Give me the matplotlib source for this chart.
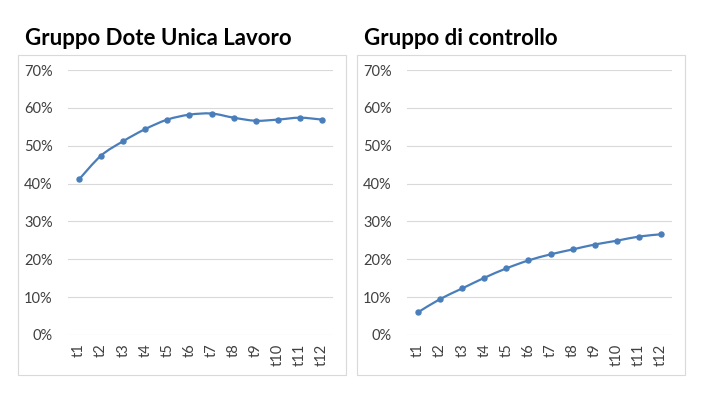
import numpy as np
import matplotlib
matplotlib.use('Agg')
import matplotlib.pyplot as plt
from matplotlib.path import Path
from matplotlib.patches import PathPatch, Rectangle
from matplotlib.ticker import PercentFormatter

periods = ['t1', 't2', 't3', 't4', 't5', 't6', 't7', 't8', 't9', 't10', 't11', 't12']
dote_unica = [41.1, 47.4, 51.2, 54.4, 56.9, 58.2, 58.5, 57.4, 56.6, 56.9, 57.4, 56.9]
controllo = [6.0, 9.5, 12.3, 15.1, 17.6, 19.7, 21.3, 22.6, 23.9, 24.9, 26.0, 26.6]
titles = ['Gruppo Dote Unica Lavoro', 'Gruppo di controllo']

blue = '#4A7EBB'
grid_c = '#D9D9D9'
text_c = '#404040'

plt.rcParams['font.family'] = ['Lato', 'DejaVu Sans']


def smooth_path(x, y):
    # excel-like smoothed line: cubic bezier through the points
    x = np.asarray(x, float)
    y = np.asarray(y, float)
    n = len(x)
    verts = [(x[0], y[0])]
    codes = [Path.MOVETO]
    for i in range(n - 1):
        p0 = np.array([x[max(i - 1, 0)], y[max(i - 1, 0)]])
        p1 = np.array([x[i], y[i]])
        p2 = np.array([x[i + 1], y[i + 1]])
        p3 = np.array([x[min(i + 2, n - 1)], y[min(i + 2, n - 1)]])
        c1 = p1 + (p2 - p0) / 6.0
        c2 = p2 - (p3 - p1) / 6.0
        verts += [tuple(c1), tuple(c2), tuple(p2)]
        codes += [Path.CURVE4] * 3
    return Path(verts, codes)


fig = plt.figure(figsize=(7.05, 4), dpi=100)

frames = [(18, 55, 346, 375), (357, 55, 685, 375)]
axes_px = [(68, 333), (407, 672)]
title_x = [25, 364]
series = [dote_unica, controllo]

for k in range(2):
    x0, y0, x1, y1 = frames[k]
    fig.patches.append(Rectangle((x0 / 705, 1 - y1 / 400), (x1 - x0) / 705, (y1 - y0) / 400,
                                 transform=fig.transFigure, fill=False,
                                 edgecolor=grid_c, linewidth=0.8))
    fig.text(title_x[k] / 705, 1 - 45 / 400, titles[k], fontsize=16, fontweight='bold',
             color='black', ha='left', va='baseline')

    ax = fig.add_axes([axes_px[k][0] / 705, 1 - 335 / 400,
                       (axes_px[k][1] - axes_px[k][0]) / 705, 265 / 400])
    xs = np.arange(len(periods))
    ys = series[k]
    ax.add_patch(PathPatch(smooth_path(xs, ys), fill=False, edgecolor=blue,
                           linewidth=1.6, capstyle='round', zorder=3))
    ax.plot(xs, ys, linestyle='none', marker='o', markersize=3.6, color=blue, zorder=4)
    ax.set_xlim(-0.5, len(periods) - 0.5)
    ax.set_ylim(0, 70)
    ax.set_yticks(range(0, 71, 10))
    ax.yaxis.set_major_formatter(PercentFormatter(decimals=0))
    ax.set_xticks(xs)
    ax.set_xticklabels(periods, rotation=90)
    ax.grid(axis='y', color=grid_c, linewidth=0.8)
    ax.set_axisbelow(True)
    for s in ax.spines.values():
        s.set_visible(False)
    ax.tick_params(length=0, labelsize=10.5, colors=text_c, pad=6)
    ax.tick_params(axis='y', pad=11)
    ax.patch.set_alpha(0)

fig.savefig('out.png', dpi=100)
